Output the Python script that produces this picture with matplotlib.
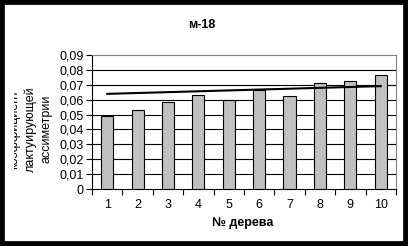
import matplotlib.pyplot as plt
import matplotlib.patches as patches
import numpy as np

plt.rcParams['font.family'] = ['Liberation Sans', 'DejaVu Sans']

# data
trees = [1, 2, 3, 4, 5, 6, 7, 8, 9, 10]
values = [0.0488, 0.0529, 0.0583, 0.0630, 0.0599, 0.0666, 0.0623, 0.0711, 0.0725, 0.0765]
trend_x = [1, 10]
trend_y = [0.0639, 0.0691]
yticks = [0, 0.01, 0.02, 0.03, 0.04, 0.05, 0.06, 0.07, 0.08, 0.09]
ytick_labels = ['0', '0,01', '0,02', '0,03', '0,04', '0,05', '0,06', '0,07', '0,08', '0,09']

fig = plt.figure(figsize=(4.08, 2.46), dpi=100)
ax = fig.add_axes([0.2255, 0.2317, 0.745, 0.5447])

ax.bar(trees, values, width=0.4, color='#C0C0C0', edgecolor='black', linewidth=0.8, zorder=3)
ax.plot(trend_x, trend_y, color='black', linewidth=1.5, zorder=4)

ax.set_xlim(0.5, 10.5)
ax.set_ylim(0, 0.09)
ax.set_yticks(yticks)
ax.set_yticklabels(ytick_labels, fontsize=9)
for y in yticks[1:-1]:
    ax.axhline(y, color='black', linewidth=0.8, zorder=1)

# category ticks sit on the boundaries, labels in the middle
ax.set_xticks(np.arange(0.5, 11, 1))
ax.set_xticklabels([])
ax.set_xticks(trees, minor=True)
ax.set_xticklabels([str(t) for t in trees], minor=True, fontsize=9)
ax.tick_params(axis='x', which='minor', length=0, pad=7)
ax.tick_params(axis='x', which='major', length=4, width=0.8)
ax.tick_params(axis='y', length=4, width=0.8, pad=2)

ax.spines['top'].set_color('#808080')
ax.spines['right'].set_color('#808080')
ax.spines['left'].set_linewidth(0.8)
ax.spines['bottom'].set_linewidth(0.8)

fig.text(0.495, 0.900, 'м-18', ha='center', va='center', fontsize=9, fontweight='bold')
fig.text(0.596, 0.093, '№ дерева', ha='center', va='center', fontsize=9, fontweight='bold')
fig.text(0.074, 0.475, 'коэффициент\nлактуирующей\nассиметрии', ha='center', va='center',
         rotation=90, fontsize=9, linespacing=1.4)

# white strip hides part of the label, then the black frame
fig.patches.append(patches.Rectangle((0, 0), 14 / 408, 1, transform=fig.transFigure,
                                     facecolor='white', edgecolor='none', zorder=10))
frame = patches.Rectangle((0, 0), 1, 1, transform=fig.transFigure, fill=False,
                          edgecolor='black', linewidth=7, zorder=11)
fig.patches.append(frame)

fig.savefig('out.png', dpi=100)
